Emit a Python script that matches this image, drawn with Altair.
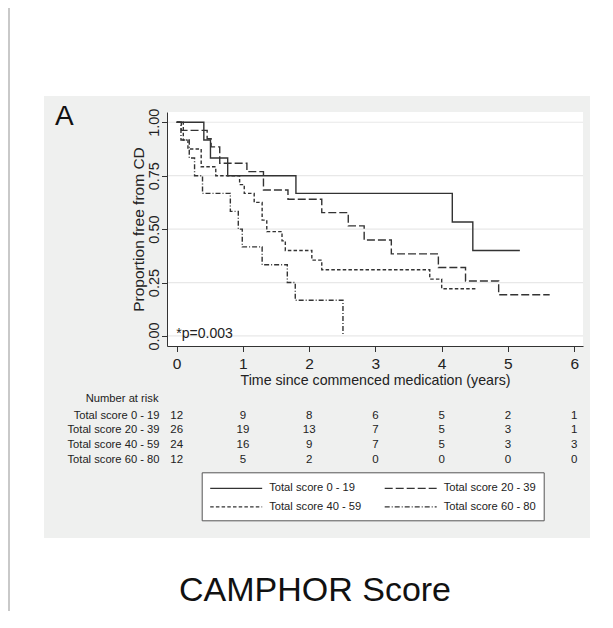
import altair as alt
import pandas as pd

FONT = "Liberation Sans, Arial, sans-serif"

groups = ["Total score 0 - 19", "Total score 20 - 39", "Total score 40 - 59", "Total score 60 - 80"]

g1_time = [0, 0.41, 0.51, 0.77, 1.80, 4.16, 4.47, 5.18]
g1_surv = [1, 0.917, 0.833, 0.75, 0.667, 0.533, 0.40, 0.40]
g2_time = [0, 0.07, 0.46, 0.52, 0.65, 1.06, 1.31, 1.68, 2.19, 2.59, 2.83, 3.24, 3.95, 4.36, 4.86, 5.63]
g2_surv = [1, 0.962, 0.923, 0.885, 0.808, 0.769, 0.683, 0.640, 0.577, 0.515, 0.449, 0.384, 0.320, 0.257, 0.193, 0.193]
g3_time = [0, 0.10, 0.17, 0.37, 0.59, 0.95, 1.02, 1.17, 1.29, 1.36, 1.59, 1.64, 2.04, 2.19, 3.82, 4.00, 4.53]
g3_surv = [1, 0.917, 0.875, 0.792, 0.75, 0.708, 0.667, 0.625, 0.542, 0.488, 0.445, 0.40, 0.355, 0.31, 0.266, 0.221, 0.221]
g4_time = [0, 0.065, 0.19, 0.27, 0.39, 0.81, 0.93, 0.99, 1.29, 1.67, 1.79, 2.51]
g4_surv = [1, 0.917, 0.833, 0.75, 0.667, 0.583, 0.5, 0.417, 0.333, 0.25, 0.167, 0.0]

risk_times = [0, 1, 2, 3, 4, 5, 6]
risk_g1 = [12, 9, 8, 6, 5, 2, 1]
risk_g2 = [26, 19, 13, 7, 5, 3, 1]
risk_g3 = [24, 16, 9, 7, 5, 3, 3]
risk_g4 = [12, 5, 2, 0, 0, 0, 0]

grid_values = [0, 0.25, 0.5, 0.75, 1]
x_ticks = [0, 1, 2, 3, 4, 5, 6]
dashes = [[1, 0], [8, 3], [3.5, 2.2], [5, 2, 1, 2]]

# ---- tables ----
rows = []
for g, ts, ss in zip(groups, [g1_time, g2_time, g3_time, g4_time],
                     [g1_surv, g2_surv, g3_surv, g4_surv]):
    for i, (t, s) in enumerate(zip(ts, ss)):
        rows.append({"group": g, "time": t, "surv": s, "order": i})
df_lines = pd.DataFrame(rows)
df_grid = pd.DataFrame({"surv": grid_values})
one = pd.DataFrame({"k": [0]})

W, H = 416, 234
xscale = alt.Scale(domain=[-0.146, 6.133], nice=False, zero=False)
yscale = alt.Scale(domain=[-0.047, 1.048], nice=False, zero=False)

xaxis = alt.Axis(values=x_ticks, format="d", title="Time since commenced medication (years)",
                 grid=False, domainColor="#333", tickColor="#333", tickSize=5.5,
                 labelFont=FONT, labelFontSize=15.5, labelColor="#222",
                 labelBaseline="alphabetic", labelPadding=17, labelFlush=False,
                 titleFont=FONT, titleFontSize=14.2, titleFontWeight="normal", titleColor="#222",
                 titleX=208, titleY=38, titleBaseline="alphabetic", titleAlign="center",
                 zindex=1)
yaxis = alt.Axis(values=grid_values, format=".2f", title="Proportion free from CD",
                 grid=False, domainColor="#333", tickColor="#333", tickSize=5.5,
                 labelFont=FONT, labelFontSize=14.5, labelColor="#222", labelAngle=270,
                 labelAlign="center", labelBaseline="alphabetic", labelPadding=3.5,
                 labelFlush=False, labelOverlap=False,
                 titleFont=FONT, titleFontSize=15.5, titleFontWeight="normal", titleColor="#222",
                 titleX=-23.5, titleY=117, titleBaseline="alphabetic", titleAlign="center",
                 titleAngle=270, zindex=1)

legend = alt.Legend(orient="none", legendX=34.7, legendY=360.3, columns=2, direction="horizontal",
                    title=None,
                    symbolType="M-1,0H5.93", symbolSize=225, symbolStrokeWidth=1.3,
                    symbolStrokeColor="#333", labelFont=FONT, labelFontSize=11.2,
                    labelColor="#222", labelOffset=43, rowPadding=4.5, columnPadding=19.5,
                    padding=7.5, strokeColor="#555", fillColor="white")

frame = alt.Chart(one).mark_rect(color="#c9c9c9").encode(
    x=alt.value(-159), x2=alt.value(-157), y=alt.value(-104), y2=alt.value(510))
panel = alt.Chart(one).mark_rect(color="#eff0ef").encode(
    x=alt.value(-123), x2=alt.value(423), y=alt.value(-16), y2=alt.value(426))
plotbg = alt.Chart(one).mark_rect(color="white").encode(
    x=alt.value(0), x2=alt.value(W), y=alt.value(0), y2=alt.value(H))
grid = alt.Chart(df_grid).mark_rule(color="#e8e8e8", strokeWidth=1.2).encode(
    y=alt.Y("surv:Q", scale=yscale, axis=yaxis))

lines = alt.Chart(df_lines).mark_line(interpolate="step-after", color="#333",
                                      strokeWidth=1.4).encode(
    x=alt.X("time:Q", scale=xscale, axis=xaxis),
    y=alt.Y("surv:Q", scale=yscale, axis=yaxis),
    strokeDash=alt.StrokeDash("group:N", scale=alt.Scale(domain=groups, range=dashes),
                              legend=legend),
    order="order:Q",
)

layers = [frame, panel, plotbg, grid, lines]

# annotations
layers.append(alt.Chart(one).mark_text(text="A", font=FONT, fontSize=28, align="left",
                                       baseline="alphabetic", color="#111").encode(
    x=alt.value(-112), y=alt.value(13)))
layers.append(alt.Chart(one).mark_text(text="*p=0.003", font=FONT, fontSize=14,
                                       align="left", baseline="alphabetic", color="#222").encode(
    x=alt.value(9.3), y=alt.value(225.7)))
layers.append(alt.Chart(one).mark_text(text="Number at risk", font=FONT, fontSize=11.2,
                                       align="right", baseline="middle", color="#222").encode(
    x=alt.value(-8.5), y=alt.value(287)))
layers.append(alt.Chart(one).mark_text(text="CAMPHOR Score", font=FONT, fontSize=34,
                                       align="center", baseline="middle", color="#111").encode(
    x=alt.value(148), y=alt.value(478.7)))

row_y = [303.5, 318.3, 333.1, 347.9]
for g, counts, yy in zip(groups, [risk_g1, risk_g2, risk_g3, risk_g4], row_y):
    dfr = pd.DataFrame({"time": risk_times, "n": counts})
    layers.append(alt.Chart(dfr).mark_text(font=FONT, fontSize=11.5, align="center",
                                           baseline="middle", color="#222").encode(
        x=alt.X("time:Q", scale=xscale), y=alt.value(yy), text="n:Q"))
    layers.append(alt.Chart(one).mark_text(text=g, font=FONT, fontSize=11.2, align="right",
                                           baseline="middle", color="#222").encode(
        x=alt.value(-7.5), y=alt.value(yy)))

chart = alt.layer(*layers).properties(
    width=W, height=H,
    autosize=alt.AutoSizeParams(type="none"),
    padding={"left": 159, "top": 104, "right": 22, "bottom": 265},
    background="white",
).configure_view(stroke=None)

chart.save("out.html", embed_options={"renderer": "svg", "actions": False})
